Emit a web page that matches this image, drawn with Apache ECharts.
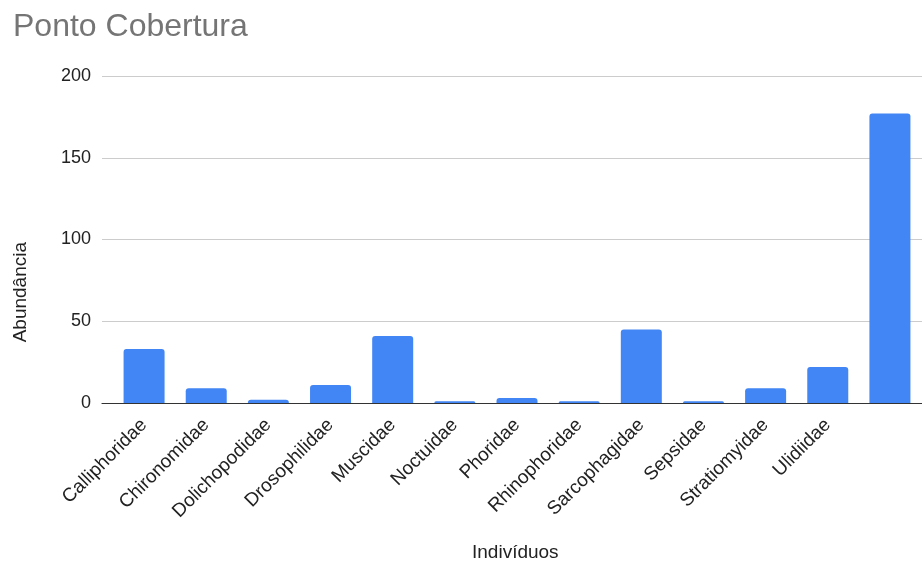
<!DOCTYPE html>
<html>
<head>
<meta charset="utf-8">
<script src="https://cdn.jsdelivr.net/npm/echarts@6/dist/echarts.min.js"></script>
<style>
  html, body { margin: 0; padding: 0; background: #fff; }
  #chart { width: 922px; height: 566px; }
</style>
</head>
<body>
<div id="chart"></div>
<script>
// Families of insects collected at the "Cobertura" site
const families = [
  'Calliphoridae', 'Chironomidae', 'Dolichopodidae', 'Drosophilidae', 'Muscidae',
  'Noctuidae', 'Phoridae', 'Rhinophoridae', 'Sarcophagidae', 'Sepsidae',
  'Stratiomyidae', 'Ulidiidae', ''
];
const abundance = [33, 9, 2, 11, 41, 1, 3, 1, 45, 1, 9, 22, 177];
const yTicks = [0, 50, 100, 150, 200];

const FONT = 'Liberation Sans, Arial, sans-serif';
const chart = echarts.init(document.getElementById('chart'));

chart.setOption({
  backgroundColor: '#ffffff',
  animation: false,
  title: {
    text: 'Ponto Cobertura',
    left: 8, top: 6,
    textStyle: { fontFamily: FONT, fontSize: 32, fontWeight: 'normal', color: '#757575' }
  },
  grid: [
    // value scale + gridlines
    { left: 102, right: 0, top: 76, bottom: 163 },
    // category bands for bars
    { left: 113, width: 808, top: 76, bottom: 163 }
  ],
  xAxis: [
    {
      gridIndex: 0, type: 'value', min: 0, max: 1,
      axisLine: { show: true, lineStyle: { color: '#333333', width: 1.2 } },
      axisTick: { show: false }, axisLabel: { show: false }, splitLine: { show: false }
    },
    {
      gridIndex: 1, type: 'category', data: families,
      axisLine: { show: false }, axisTick: { show: false },
      axisLabel: {
        rotate: 45, interval: 0, margin: 19, padding: [8, 0, 0, 0],
        fontFamily: FONT, fontSize: 19, color: '#222222'
      }
    }
  ],
  yAxis: [
    {
      gridIndex: 0, type: 'value', min: yTicks[0], max: yTicks[yTicks.length - 1], interval: 50,
      axisLine: { show: false }, axisTick: { show: false },
      axisLabel: { margin: 11, fontFamily: FONT, fontSize: 18, color: '#222222' },
      splitLine: { lineStyle: { color: '#cccccc', width: 1 } }
    },
    {
      gridIndex: 1, type: 'value', min: yTicks[0], max: yTicks[yTicks.length - 1], interval: 50,
      show: false
    }
  ],
  series: [{
    type: 'bar',
    xAxisIndex: 1, yAxisIndex: 1,
    data: abundance,
    barWidth: 41,
    itemStyle: { color: '#4285F4', borderRadius: [3, 3, 0, 0] }
  }],
  graphic: [
    {
      type: 'text', left: 11, top: 242,
      rotation: Math.PI / 2,
      style: {
        text: 'Abundância', fontFamily: FONT, fontSize: 19, fill: '#222222'
      },
      originX: 0, originY: 0
    },
    {
      type: 'text', left: 472, top: 543,
      style: { text: 'Indivíduos', fontFamily: FONT, fontSize: 19, fill: '#222222' }
    }
  ]
});
</script>
</body>
</html>
